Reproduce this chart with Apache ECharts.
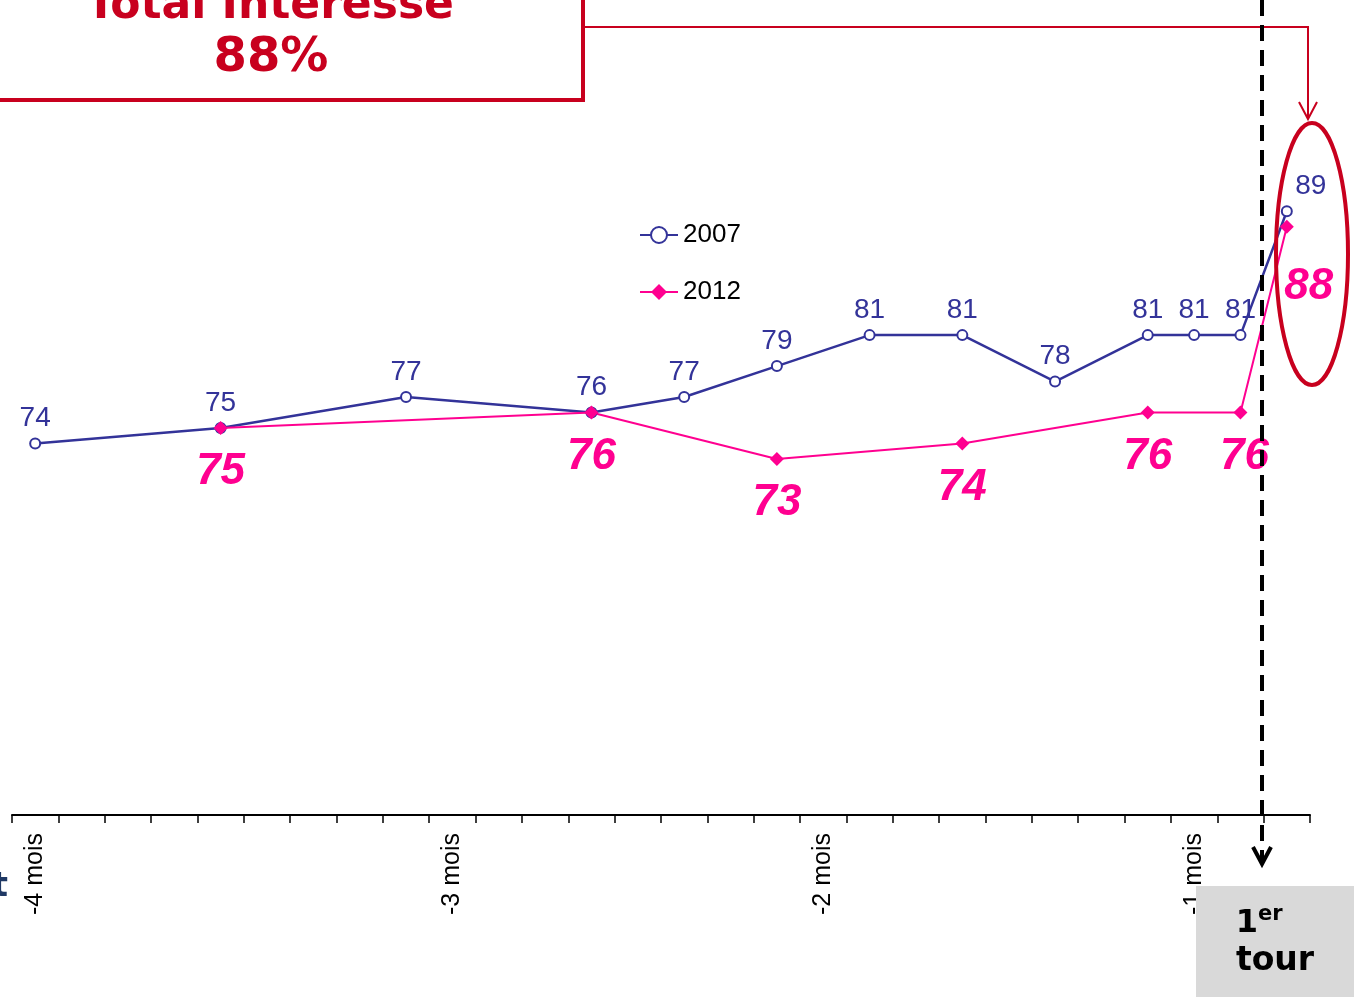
<!DOCTYPE html>
<html>
<head>
<meta charset="utf-8">
<script src="https://cdn.jsdelivr.net/npm/echarts@6/dist/echarts.min.js"></script>
<style>
  html, body { margin: 0; padding: 0; background: #fff; }
  #chart { width: 1364px; height: 997px; }
</style>
</head>
<body>
<div id="chart"></div>
<script>
// x categories (one per tick slot), only some have a label
const categories = [
  '-4 mois', '', '', '', '', '', '', '', '', '-3 mois',
  '', '', '', '', '', '', '', '-2 mois', '', '',
  '', '', '', '', '', '-1 mois', '', ''
];
const values2007 = [
  74, null, null, null, 75, null, null, null, 77, null,
  null, null, 76, null, 77, null, 79, null, 81, null,
  81, null, 78, null, 81, 81, 81, 89
];
const values2012 = [
  null, null, null, null, 75, null, null, null, null, null,
  null, null, 76, null, null, null, 73, null, null, null,
  74, null, null, null, 76, null, 76, 88
];

const blue = '#333399';
const pink = '#FF0090';
const red = '#C8001E';
const font = 'Liberation Sans, Arial, sans-serif';

const chart = echarts.init(document.getElementById('chart'));

// last points get their labels pushed to the right
const data2007 = values2007.map((v, i) => i === 27
  ? { value: v, label: { offset: [24, 0] } } : v);
const data2012 = values2012.map((v, i) => {
  if (i === 27) return { value: v, label: { offset: [22, 16] } };
  if (i === 26) return { value: v, label: { offset: [4, 0] } };
  return v;
});

chart.setOption({
  animation: false,
  grid: { left: 12, right: 54, top: 41, bottom: 182 },
  legend: {
    orient: 'vertical',
    left: 634,
    top: 217,
    itemWidth: 38,
    itemHeight: 20,
    itemGap: 31,
    textStyle: { fontSize: 26, color: '#000', fontFamily: font },
    data: ['2007', '2012']
  },
  xAxis: {
    type: 'category',
    data: categories,
    boundaryGap: true,
    axisLine: { lineStyle: { color: '#000', width: 2 } },
    axisTick: { show: true, interval: 0, length: 8, lineStyle: { color: '#000', width: 1.5 } },
    axisLabel: {
      interval: 0,
      rotate: 90,
      margin: 18,
      fontSize: 25,
      color: '#000',
      fontFamily: font
    }
  },
  yAxis: {
    type: 'value',
    min: 50,
    max: 100,
    show: false,
    splitLine: { show: false }
  },
  series: [
    {
      name: '2007',
      type: 'line',
      data: data2007,
      connectNulls: true,
      color: blue,
      lineStyle: { width: 2.5, color: blue },
      symbol: 'emptyCircle',
      symbolSize: 10,
      itemStyle: { color: blue, borderWidth: 1.5 },
      label: {
        show: true,
        position: 'top',
        distance: 5,
        fontSize: 28,
        color: blue,
        fontFamily: font
      }
    },
    {
      name: '2012',
      type: 'line',
      data: data2012,
      connectNulls: true,
      color: pink,
      lineStyle: { width: 2, color: pink },
      symbol: 'diamond',
      symbolSize: 14,
      itemStyle: { color: pink },
      label: {
        show: true,
        position: 'bottom',
        distance: 15,
        fontSize: 44,
        fontWeight: 'bold',
        fontStyle: 'italic',
        color: pink,
        fontFamily: font
      }
    }
  ],
  graphic: [
    {
      type: 'rect', z: 100,
      shape: { x: -10, y: -20, width: 593, height: 120 },
      style: { fill: '#fff', stroke: red, lineWidth: 4 }
    },
    {
      type: 'text', z: 101, x: 270, y: 29,
      style: {
        text: 'Total Intéressé', fill: red, align: 'center', verticalAlign: 'bottom',
        font: 'bold 44px "DejaVu Sans", Verdana, sans-serif'
      }
    },
    {
      type: 'text', z: 101, x: 271, y: 83,
      style: {
        text: '88%', fill: red, align: 'center', verticalAlign: 'bottom',
        font: 'bold 48px "DejaVu Sans", Verdana, sans-serif'
      }
    },
    {
      type: 'polyline', z: 100,
      shape: { points: [[583, 27], [1308, 27], [1308, 118]] },
      style: { stroke: red, lineWidth: 2, fill: null }
    },
    {
      type: 'polyline', z: 100,
      shape: { points: [[1299, 102], [1308, 119], [1317, 102]] },
      style: { stroke: red, lineWidth: 2, fill: null }
    },
    {
      type: 'ellipse', z: 100,
      shape: { cx: 1312, cy: 254, rx: 36, ry: 131 },
      style: { stroke: red, lineWidth: 4, fill: null }
    },
    {
      type: 'line', z: 100,
      shape: { x1: 1262, y1: 0, x2: 1262, y2: 860 },
      style: { stroke: '#000', lineWidth: 4, lineDash: [16, 9] }
    },
    {
      type: 'polyline', z: 100,
      shape: { points: [[1253, 847], [1262, 864], [1271, 847]] },
      style: { stroke: '#000', lineWidth: 4, fill: null }
    },
    {
      type: 'rect', z: 100,
      shape: { x: 1196, y: 886, width: 158, height: 111 },
      style: { fill: '#D9D9D9' }
    },
    {
      type: 'text', z: 101, x: 1258, y: 940,
      style: {
        text: '1', fill: '#000', align: 'right', verticalAlign: 'bottom',
        font: 'bold 32px "DejaVu Sans", Verdana, sans-serif'
      }
    },
    {
      type: 'text', z: 101, x: 1258, y: 925,
      style: {
        text: 'er', fill: '#000', align: 'left', verticalAlign: 'bottom',
        font: 'bold 21px "DejaVu Sans", Verdana, sans-serif'
      }
    },
    {
      type: 'text', z: 101, x: 1275, y: 978,
      style: {
        text: 'tour', fill: '#000', align: 'center', verticalAlign: 'bottom',
        font: 'bold 33px "DejaVu Sans", Verdana, sans-serif'
      }
    },
    {
      type: 'text', z: 101, x: 8, y: 904,
      style: {
        text: 't', fill: '#1F3864', align: 'right', verticalAlign: 'bottom',
        font: 'bold 34px "DejaVu Sans", Verdana, sans-serif'
      }
    }
  ]
});
</script>
</body>
</html>
